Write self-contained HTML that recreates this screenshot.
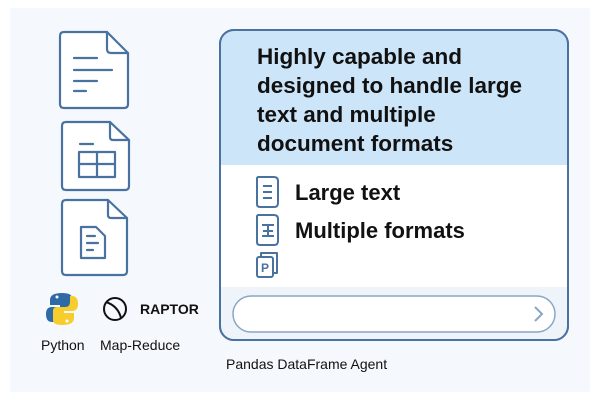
<!DOCTYPE html>
<html><head><style>
body{margin:0;width:600px;height:400px;background:#fff;font-family:"Liberation Sans",sans-serif;position:relative;overflow:hidden}
.bg{position:absolute;left:10px;top:8px;width:580px;height:384px;background:#f5f9fd}
.t{position:absolute;white-space:nowrap;color:#111}
</style></head><body>
<div class="bg"></div>
<svg width="600" height="400" style="position:absolute;left:0;top:0">
<g fill="#fff" stroke="#4a72a0" stroke-width="2.2" stroke-linejoin="round" stroke-linecap="round">
<path d="M64,32 H107 L128,53 V104 Q128,108 124,108 H64 Q60,108 60,104 V36 Q60,32 64,32 Z"/>
<path d="M107,32 V49 Q107,53 111,53 H128" fill="none"/>
<path d="M74,58H97 M74,70H112 M74,81H97 M74,91H86" fill="none"/>
<path d="M66,122 H110 L129,140 V186 Q129,190 125,190 H66 Q62,190 62,186 V126 Q62,122 66,122 Z"/>
<path d="M110,122 V137 Q110,140 113,140 H129 M80,144H93" fill="none"/>
<rect x="79" y="152" width="36" height="25" fill="none"/>
<path d="M79,164H115 M97,152V177" fill="none"/>
<path d="M66,200 H108 L127,218 V271 Q127,275 123,275 H66 Q62,275 62,271 V204 Q62,200 66,200 Z"/>
<path d="M108,200 V215 Q108,218 111,218 H127" fill="none"/>
<path d="M81,227H96L105,236V258H81Z" fill="none"/>
<path d="M87,236H95 M87,243H98 M87,250H93" fill="none"/>
</g>
<path d="M62,293 Q50,293 50,300 V305 H60 V307 H52 Q46,307 46,314 Q46,322 52,322 H55 V316 Q55,311 60,311 H68 Q72,311 72,307 V298 Q72,293 62,293Z" fill="#2e6aa6"/>
<path d="M62,325 Q74,325 74,318 V313 H64 V311 H72 Q78,311 78,304 Q78,296 72,296 H70 V302 Q70,307 65,307 H57 Q53,307 53,311 V320 Q53,325 62,325Z" fill="#f7cd2e"/>
<circle cx="57" cy="297" r="1.5" fill="#fff"/><circle cx="67" cy="321" r="1.5" fill="#fff"/>
<circle cx="115" cy="309" r="11" fill="none" stroke="#111" stroke-width="2"/>
<path d="M106,302 Q118,306 121,318" fill="none" stroke="#111" stroke-width="2"/>
<rect x="220" y="30" width="348" height="310" rx="14" fill="#fff" stroke="#4a72a0" stroke-width="2"/>
<path d="M221,165 V44 Q221,31 234,31 H554 Q567,31 567,44 V165 Z" fill="#cde5f9"/>
<path d="M221,287 H567 V326 Q567,339 554,339 H234 Q221,339 221,326 Z" fill="#eef4fa"/>
<rect x="220" y="30" width="348" height="310" rx="14" fill="none" stroke="#4a72a0" stroke-width="2"/>
<rect x="233" y="296" width="322" height="36" rx="18" fill="#fff" stroke="#8aa6c4" stroke-width="1.5"/>
<path d="M535,307 L542,314 L535,321" fill="none" stroke="#8aa6c4" stroke-width="2"/>
<g fill="none" stroke="#4a72a0" stroke-width="2" stroke-linejoin="round">
<path d="M258,177H274Q278,177 278,181V203Q278,207 274,207H260Q257,207 257,204V178Z"/>
<path d="M263,186H272 M263,192H272 M263,198H272"/>
<path d="M258,215H274Q278,215 278,219V241Q278,245 274,245H260Q257,245 257,242V216Z"/>
<path d="M262,225H274 M262,236H274 M268,225V236 M263,231H273"/>
<rect x="257" y="257" width="16" height="20" rx="2"/>
<path d="M261,257V253H277V273H273"/>
</g>
<text x="261" y="272" font-family="Liberation Sans" font-weight="bold" font-size="12" fill="#4a72a0">P</text>
</svg>
<div class="t" style="left:257px;top:42px;font-size:22.5px;font-weight:bold;line-height:29px">Highly capable and<br>designed to handle large<br>text and multiple<br>document formats</div>
<div class="t" style="left:295px;top:180px;font-size:22px;font-weight:bold">Large text</div>
<div class="t" style="left:295px;top:218px;font-size:22px;font-weight:bold">Multiple formats</div>
<div class="t" style="left:140px;top:301px;font-size:14px;font-weight:bold">RAPTOR</div>
<div class="t" style="left:41px;top:337px;font-size:14px">Python</div>
<div class="t" style="left:100px;top:337px;font-size:14px">Map-Reduce</div>
<div class="t" style="left:226px;top:356px;font-size:14px">Pandas DataFrame Agent</div>
</body></html>
